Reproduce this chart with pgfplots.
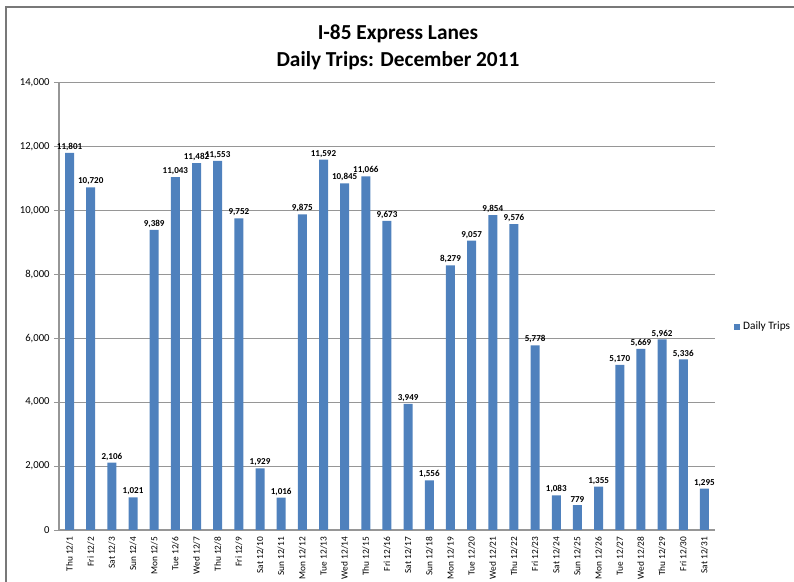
\documentclass[border=0pt]{standalone}
\usepackage{pgfplots}
\pgfplotsset{compat=1.18}
\usepackage{fontspec}
\setmainfont{Carlito}
\definecolor{barblue}{RGB}{79,129,189}
\definecolor{framegray}{RGB}{120,120,120}
\definecolor{gridgray}{RGB}{150,150,150}
\begin{document}
\begin{tikzpicture}
\path[use as bounding box] (0,0) rectangle (595.5pt,436.5pt);
\draw[framegray, line width=0.9pt] (4.5pt,0pt) -- (4.5pt,431.25pt) -- (595.5pt,431.25pt);
\node[font=\fontsize{16}{20}\selectfont\bfseries, align=center] at (298.5pt,401pt) {I-85 Express Lanes\\Daily Trips: December 2011};
\begin{axis}[
  at={(44.25pt,39pt)}, anchor=south west,
  scale only axis, width=492pt, height=335.5pt,
  ybar, bar width=6.75pt,
  xmin=-0.5, xmax=30.5, ymin=0, ymax=14000,
  xtick={0,1,...,30},
  xticklabels={Thu 12/1,Fri 12/2,Sat 12/3,Sun 12/4,Mon 12/5,Tue 12/6,Wed 12/7,Thu 12/8,Fri 12/9,Sat 12/10,Sun 12/11,Mon 12/12,Tue 12/13,Wed 12/14,Thu 12/15,Fri 12/16,Sat 12/17,Sun 12/18,Mon 12/19,Tue 12/20,Wed 12/21,Thu 12/22,Fri 12/23,Sat 12/24,Sun 12/25,Mon 12/26,Tue 12/27,Wed 12/28,Thu 12/29,Fri 12/30,Sat 12/31},
  minor xtick={-0.5,0.5,...,30.5},
  x tick label style={rotate=90, anchor=east, font=\fontsize{7}{8}\selectfont, inner sep=1.5pt},
  xtick style={draw=none},
  minor tick length=3pt,
  ytick={0,2000,...,14000},
  scaled y ticks=false,
  yticklabel style={font=\fontsize{8}{9}\selectfont, /pgf/number format/1000 sep={,}, /pgf/number format/assume math mode=true},
  ymajorgrids, grid style={gridgray, line width=0.8pt},
  axis x line*=bottom, axis y line*=left,
  axis line style={gridgray, line width=0.8pt},
  tick align=outside, major tick length=3.5pt,
  every tick/.style={gridgray, line width=0.6pt},
  every minor tick/.style={gridgray, line width=0.6pt},
  nodes near coords,
  nodes near coords style={font=\fontsize{6.8}{8}\selectfont\bfseries, /pgf/number format/1000 sep={,}, /pgf/number format/assume math mode=true, inner sep=1.5pt},
  legend style={at={(1.027,0.454)}, anchor=west, draw=none, fill=none, font=\fontsize{8.5}{10}\selectfont, inner sep=1pt},
  legend image code/.code={\fill[barblue] (0pt,-2.3pt) rectangle (4.6pt,2.3pt);},
]
\addplot[fill=barblue, draw=none] coordinates {
(0,11801) (1,10720) (2,2106) (3,1021) (4,9389) (5,11043) (6,11482) (7,11553) (8,9752) (9,1929)
(10,1016) (11,9875) (12,11592) (13,10845) (14,11066) (15,9673) (16,3949) (17,1556) (18,8279) (19,9057)
(20,9854) (21,9576) (22,5778) (23,1083) (24,779) (25,1355) (26,5170) (27,5669) (28,5962) (29,5336) (30,1295)};
\addlegendentry{Daily Trips}
\end{axis}
\end{tikzpicture}
\end{document}
